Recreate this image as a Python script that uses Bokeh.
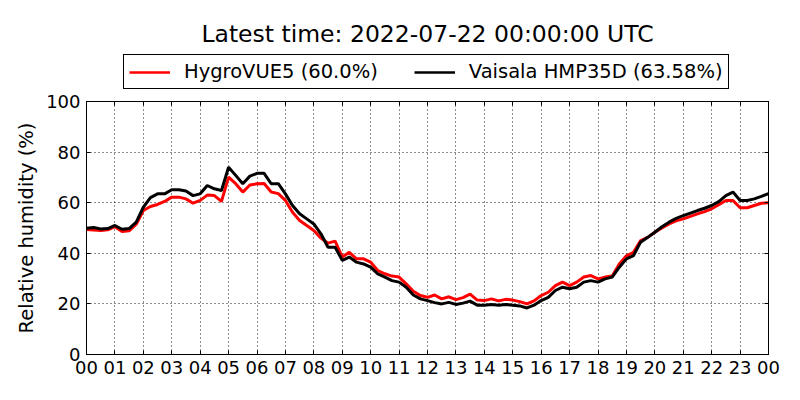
import numpy as np
from bokeh.plotting import figure
from bokeh.layouts import column
from bokeh.models import (Range1d, FixedTicker, LinearAxis, Legend, LegendItem, Label)
from bokeh.embed import file_html
from bokeh.resources import INLINE

# ---- data ----
hours = [i * 0.25 for i in range(97)]

hygrovue5 = [
    49.4, 49.2, 49.0, 49.3, 50.5, 48.6, 48.9, 51.5,
    56.9, 58.5, 59.3, 60.5, 62.2, 62.2, 61.5, 59.8,
    60.9, 63.0, 62.8, 60.5, 70.1, 67.5, 64.2, 67.0,
    67.5, 67.6, 64.2, 63.6, 60.9, 56.2, 53.0, 51.0,
    49.0, 46.0, 44.0, 44.8, 38.5, 40.4, 37.8, 37.8,
    36.5, 33.2, 31.9, 31.0, 30.6, 27.9, 25.0, 23.3,
    22.6, 23.5, 22.0, 22.8, 21.7, 22.5, 23.9, 21.5,
    21.3, 22.0, 21.2, 21.8, 21.5, 20.9, 20.0, 21.2,
    23.3, 24.6, 27.2, 28.6, 27.2, 28.6, 30.6, 31.2,
    29.9, 30.6, 31.0, 35.8, 39.0, 40.4, 45.0, 46.3,
    48.3, 50.0, 51.6, 52.8, 53.6, 54.6, 55.6, 56.5,
    57.6, 59.2, 60.9, 60.9, 58.0, 58.0, 58.9, 59.8,
    60.0,
]

hmp35d = [
    49.9, 50.2, 49.6, 49.8, 51.0, 49.5, 49.8, 52.3,
    58.2, 62.0, 63.5, 63.5, 65.1, 65.1, 64.6, 62.8,
    63.5, 66.8, 65.5, 64.8, 74.0, 70.8, 67.5, 70.5,
    71.6, 71.6, 67.5, 67.5, 63.5, 58.9, 55.6, 53.6,
    51.6, 47.7, 42.4, 42.4, 37.2, 38.5, 36.5, 35.8,
    34.5, 31.9, 30.6, 29.2, 28.6, 26.6, 23.5, 22.0,
    21.3, 20.5, 20.0, 20.6, 19.8, 20.3, 21.1, 19.5,
    19.5, 19.8, 19.5, 19.8, 19.5, 19.2, 18.4, 19.5,
    21.3, 22.6, 25.3, 26.6, 26.0, 26.6, 28.6, 29.2,
    28.6, 29.9, 30.6, 34.5, 37.8, 39.1, 44.4, 46.3,
    48.3, 50.5, 52.3, 53.8, 54.9, 55.9, 56.9, 57.8,
    58.9, 60.4, 62.8, 64.2, 60.9, 60.9, 61.5, 62.5,
    63.58,
]

series_names = ["HygroVUE5 (60.0%)", "Vaisala HMP35D (63.58%)"]
series_colors = ["#ff0000", "#000000"]
x_ticks = list(range(25))
x_tick_labels = ["%02d" % (h % 24) for h in x_ticks]
y_ticks = [0, 20, 40, 60, 80, 100]
title_text = "Latest time: 2022-07-22 00:00:00 UTC"
y_label = "Relative humidity (%)"

FONT = "DejaVu Sans"
W = 784
HEAD_H = 90

# ---------- header figure: title + legend ----------
head = figure(width=W, height=HEAD_H, output_backend="svg", toolbar_location=None,
              x_range=Range1d(0, 1), y_range=Range1d(0, 1),
              x_axis_location=None, y_axis_location=None,
              min_border=0)
head.outline_line_color = None
head.grid.visible = False
head.background_fill_color = "white"
head.border_fill_color = "white"

# legend-only renderers (no visible data)
d1 = head.line(x=np.array([np.nan]), y=np.array([np.nan]),
               line_color=series_colors[0], line_width=2.5)
d2 = head.line(x=np.array([np.nan]), y=np.array([np.nan]),
               line_color=series_colors[1], line_width=2.5)

legend = Legend(items=[LegendItem(label=series_names[0], renderers=[d1]),
                       LegendItem(label=series_names[1], renderers=[d2])],
                orientation="horizontal", location=(37, 1),
                label_text_font=FONT, label_text_font_size="19.5px",
                label_text_color="black",
                glyph_width=41, glyph_height=20, label_standoff=14,
                spacing=36, padding=5, margin=0,
                border_line_color="black", border_line_width=1, border_line_alpha=1,
                background_fill_color="white", background_fill_alpha=1)
head.add_layout(legend, "center")

title = Label(x=341, y=57, x_units="screen", y_units="screen", text=title_text,
              text_font=FONT, text_font_size="23.5px", text_align="center",
              text_baseline="alphabetic", text_color="black")
head.add_layout(title)

# ---------- main plot ----------
p = figure(width=W, height=384 - HEAD_H, output_backend="svg", toolbar_location=None,
           x_range=Range1d(0, 24), y_range=Range1d(0, 100),
           min_border_left=86, min_border_right=16, min_border_top=101 - HEAD_H,
           min_border_bottom=30)
p.background_fill_color = "white"
p.border_fill_color = "white"
p.outline_line_color = "black"
p.outline_line_width = 1

r1 = p.line(hours, hygrovue5, line_color=series_colors[0], line_width=3)
r2 = p.line(hours, hmp35d, line_color=series_colors[1], line_width=3)

xa = p.xaxis[0]
ya = p.yaxis[0]
xa.ticker = FixedTicker(ticks=x_ticks)
xa.major_label_overrides = {t: l for t, l in zip(x_ticks, x_tick_labels)}
ya.ticker = FixedTicker(ticks=y_ticks)
ya.axis_label = y_label

for ax in (xa, ya):
    ax.major_label_text_font = FONT
    ax.major_label_text_font_size = "18px"
    ax.major_label_text_color = "black"
    ax.axis_label_text_font = FONT
    ax.axis_label_text_font_size = "19.5px"
    ax.axis_label_text_font_style = "normal"
    ax.axis_label_text_color = "black"
    ax.axis_label_standoff = 5
    ax.major_tick_in = 4
    ax.major_tick_out = 0
    ax.minor_tick_line_color = None
    ax.axis_line_color = "black"
    ax.major_tick_line_color = "black"
    ax.major_label_standoff = 6

right = LinearAxis(ticker=FixedTicker(ticks=y_ticks), major_label_text_font_size="1px",
                   major_label_text_color=None,
                   major_tick_in=4, major_tick_out=0, minor_tick_line_color=None,
                   major_label_standoff=0, axis_line_color="black")
top = LinearAxis(ticker=FixedTicker(ticks=x_ticks), major_label_text_font_size="1px",
                 major_label_text_color=None,
                 major_tick_in=4, major_tick_out=0, minor_tick_line_color=None,
                 major_label_standoff=0, axis_line_color="black")
p.add_layout(right, "right")
p.add_layout(top, "above")

for g in (p.xgrid[0], p.ygrid[0]):
    g.grid_line_color = "black"
    g.grid_line_alpha = 0.9
    g.grid_line_width = 1
    g.grid_line_dash = "1 3"
p.xgrid[0].ticker = FixedTicker(ticks=x_ticks)
p.ygrid[0].ticker = FixedTicker(ticks=y_ticks)

layout = column(head, p, spacing=0)
open("out.html", "w").write(file_html(layout, INLINE))
